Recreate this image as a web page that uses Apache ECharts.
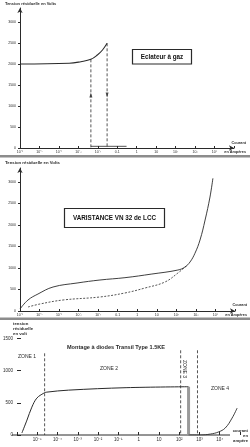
<!DOCTYPE html>
<html><head><meta charset="utf-8">
<script src="https://cdn.jsdelivr.net/npm/echarts@6/dist/echarts.min.js"></script>
<style>html,body{margin:0;padding:0;background:#fff}#c{width:250px;height:447px}</style>
</head><body><div id="c"></div>
<script>
// ---------- Panel 1 : Eclateur à gaz ----------
const gasCurrent = [1e-6, 3.4e-4, 1.35e-3, 4.4e-3, 9.5e-3, 0.0174, 0.03];
const gasVoltage = [2000, 2016, 2055, 2111, 2214, 2333, 2492];
const gasFireCurrent = 4.4e-3, gasFireVoltage = 2111;
const gasStopCurrent = 0.03, gasStopVoltage = 2492;
const gasArrowVoltage = 1262;
const gasArcCurrent = [4.4e-3, 0.3];
const gasArcVoltage = [40, 40];

// ---------- Panel 2 : Varistance ----------
const varSolidCurrent = [1e-6, 2.57e-6, 8.3e-6, 4.9e-5, 8.3e-4, 0.0123, 0.234, 5.6, 120, 275, 500, 890, 1620, 2950, 5250, 7400];
const varSolidVoltage = [47, 256, 395, 558, 651, 721, 775, 860, 953, 1023, 1140, 1341, 1651, 2116, 2651, 3086];
const varDashCurrent = [2.57e-6, 1.05e-5, 1.6e-4, 0.0123, 0.234, 2.5, 26, 120, 350];
const varDashVoltage = [93, 163, 256, 326, 419, 535, 674, 884, 1060];

// ---------- Panel 3 : Transil ----------
const trCurrent = [1.74e-6, 3.1e-6, 5.4e-6, 9.5e-6, 2.1e-5, 2.95e-5, 3.5e-4, 0.24, 290];
const trVoltage = [31, 232, 433, 573, 650, 666, 697, 735, 750];
const trDropCurrent = 290;
const zone4Current = [290, 1100, 3500, 8500, 18600, 40700, 72000];
const zone4Voltage = [0, 0, 15, 46, 108, 263, 418];
const zoneLineCurrent = [2.3e-5, 118, 800];
const zoneLineTop = [1269, 1316, 1316];

// ---------- ticks ----------
const yTicksTop = [0, 500, 1000, 1500, 2000, 2500, 3000];
const yTicksBottom = [0, 500, 1000, 1500];
const xLabelsTop = ['10⁻⁶','10⁻⁵','10⁻⁴','10⁻³','10⁻²','0.1','1','10','10²','10³','10⁴',''];
const xLabelsBottom = ['','10⁻⁵','10⁻⁴','10⁻³','10⁻²','10⁻¹','1','10','10²','10³','10⁴',''];

const zip = (a, b) => a.map((v, i) => [v, b[i]]);
const FF = '"Liberation Sans", Arial, sans-serif';
const INK = '#2a2a2a';

function xAxis(gi, labels, fs, margin, extra) {
  return Object.assign({
    type: 'log', logBase: 10, gridIndex: gi, min: 1e-6, max: 1e5, interval: 1,
    axisLine: {show: true, lineStyle: {color: INK, width: 1}},
    axisTick: {show: true, length: 2, inside: true, lineStyle: {color: INK}},
    minorTick: {show: false},
    splitLine: {show: false},
    axisLabel: {
      fontSize: fs, fontFamily: FF, color: INK, margin: margin,
      formatter: v => labels[Math.round(Math.log10(v)) + 6] || ''
    }
  }, extra || {});
}
function yAxis(gi, max, ticks, fs, extra) {
  return Object.assign({
    type: 'value', gridIndex: gi, min: 0, max: max,
    axisLine: {show: true, lineStyle: {color: INK, width: 1}},
    axisTick: {show: true, length: 2, customValues: ticks, lineStyle: {color: INK}},
    splitLine: {show: false},
    axisLabel: {fontSize: fs, fontFamily: FF, color: INK, margin: 4, customValues: ticks, formatter: v => String(v)}
  }, extra || {});
}

const lineBase = {type: 'line', symbol: 'none', animation: false, silent: true};

const option = {
  animation: false,
  grid: [
    {left: 20, top: 8, width: 214, height: 140},
    {left: 20, top: 168, width: 215, height: 143},
    {left: 15, top: 332, width: 225, height: 103}
  ],
  xAxis: [
    xAxis(0, xLabelsTop, 3.5, 2, {axisLine: {show: true, symbol: ['none', 'arrow'], symbolSize: [4, 5], lineStyle: {color: INK}}}),
    xAxis(1, xLabelsTop, 3.5, 2, {axisLine: {show: true, symbol: ['none', 'arrow'], symbolSize: [4, 5], lineStyle: {color: INK}}}),
    xAxis(2, xLabelsBottom, 4.5, 2, {axisLine: {show: false}, axisTick: {show: true, inside: true, length: 3, lineStyle: {color: INK}}})
  ],
  yAxis: [
    yAxis(0, 3333, yTicksTop, 3.5, {axisLine: {show: true, symbol: ['none', 'arrow'], symbolSize: [4, 5], lineStyle: {color: INK}}}),
    yAxis(1, 3326, yTicksTop, 3.5, {axisLine: {show: true, symbol: ['none', 'arrow'], symbolSize: [4, 5], lineStyle: {color: INK}}}),
    yAxis(2, 1600, yTicksBottom, 4.5, {axisLine: {show: false}, axisTick: {show: true, inside: true, length: 4, customValues: yTicksBottom, lineStyle: {color: INK}}})
  ],
  series: [
    // panel 1
    Object.assign({}, lineBase, {xAxisIndex: 0, yAxisIndex: 0, smooth: 0.4, data: zip(gasCurrent, gasVoltage), lineStyle: {color: INK, width: 1.1}}),
    Object.assign({}, lineBase, {xAxisIndex: 0, yAxisIndex: 0, data: [[gasFireCurrent, gasFireVoltage], [gasFireCurrent, 0]], lineStyle: {color: INK, width: 0.8, type: [3, 2]}}),
    Object.assign({}, lineBase, {xAxisIndex: 0, yAxisIndex: 0, data: [[gasStopCurrent, gasStopVoltage], [gasStopCurrent, 0]], lineStyle: {color: INK, width: 0.8, type: [3, 2]}}),
    Object.assign({}, lineBase, {xAxisIndex: 0, yAxisIndex: 0, data: zip(gasArcCurrent, gasArcVoltage), lineStyle: {color: INK, width: 0.8}}),
    {type: 'scatter', xAxisIndex: 0, yAxisIndex: 0, symbol: 'triangle', symbolSize: [3, 5], itemStyle: {color: INK}, silent: true,
     data: [{value: [gasFireCurrent, gasArrowVoltage]}, {value: [gasStopCurrent, gasArrowVoltage], symbolRotate: 180}]},
    // panel 2
    Object.assign({}, lineBase, {xAxisIndex: 1, yAxisIndex: 1, smooth: 0.4, data: zip(varSolidCurrent, varSolidVoltage), lineStyle: {color: INK, width: 0.9}}),
    Object.assign({}, lineBase, {xAxisIndex: 1, yAxisIndex: 1, smooth: 0.4, data: zip(varDashCurrent, varDashVoltage), lineStyle: {color: INK, width: 0.8, type: [2, 1.5]}}),
    // panel 3
    Object.assign({}, lineBase, {xAxisIndex: 2, yAxisIndex: 2, smooth: 0.35, data: zip(trCurrent, trVoltage), lineStyle: {color: INK, width: 1}}),
    Object.assign({}, lineBase, {xAxisIndex: 2, yAxisIndex: 2, data: [[trDropCurrent, trVoltage[trVoltage.length - 1]], [trDropCurrent, 0]], lineStyle: {color: '#9a9a9a', width: 3}}),
    Object.assign({}, lineBase, {xAxisIndex: 2, yAxisIndex: 2, smooth: 0.4, data: zip(zone4Current, zone4Voltage), lineStyle: {color: INK, width: 0.9}}),
    ...zoneLineCurrent.map((c, i) => Object.assign({}, lineBase, {xAxisIndex: 2, yAxisIndex: 2, data: [[c, zoneLineTop[i]], [c, 0]], lineStyle: {color: INK, width: 0.8, type: [3, 2]}}))
  ],
  graphic: [
    {type: 'rect', shape: {x: 0, y: 155, width: 250, height: 2.5}, style: {fill: '#8c8c8c'}},
    {type: 'rect', shape: {x: 0, y: 317.5, width: 250, height: 2.5}, style: {fill: '#8c8c8c'}},
    {type: 'line', shape: {x1: 12, y1: 435, x2: 230, y2: 435}, style: {stroke: INK, lineWidth: 1}},
    // panel titles
    {type: 'text', x: 5, y: 4, style: {text: 'Tension résiduelle en Volts', fontSize: 4, fontWeight: 'bold', fontFamily: FF, fill: INK, verticalAlign: 'middle'}},
    {type: 'text', x: 5, y: 163, style: {text: 'Tension résiduelle en Volts', fontSize: 4.3, fontWeight: 'bold', fontFamily: FF, fill: INK, verticalAlign: 'middle'}},
    {type: 'text', x: 13, y: 329, style: {text: 'tension\nrésiduelle\nen volt', fontSize: 4.3, lineHeight: 5, fontWeight: 'bold', fontFamily: FF, fill: INK, verticalAlign: 'middle'}},
    // x unit labels
    {type: 'text', x: 246, y: 143, style: {text: 'Courant', fontSize: 3.8, fontWeight: 'bold', fontFamily: FF, fill: INK, align: 'right', verticalAlign: 'middle'}},
    {type: 'text', x: 246, y: 152, style: {text: 'en Ampères', fontSize: 3.8, fontWeight: 'bold', fontFamily: FF, fill: INK, align: 'right', verticalAlign: 'middle'}},
    {type: 'text', x: 247, y: 305, style: {text: 'Courant', fontSize: 3.8, fontWeight: 'bold', fontFamily: FF, fill: INK, align: 'right', verticalAlign: 'middle'}},
    {type: 'text', x: 247, y: 315, style: {text: 'en Ampères', fontSize: 3.8, fontWeight: 'bold', fontFamily: FF, fill: INK, align: 'right', verticalAlign: 'middle'}},
    {type: 'text', x: 248, y: 436, style: {text: 'courant\nen\nampère', fontSize: 4.2, lineHeight: 5, fontWeight: 'bold', fontFamily: FF, fill: INK, align: 'right', verticalAlign: 'middle'}},
    // boxes
    {type: 'rect', shape: {x: 132.5, y: 49.5, width: 59, height: 14.5}, style: {fill: '#fff', stroke: INK, lineWidth: 1.2}},
    {type: 'text', x: 162, y: 57, style: {text: 'Eclateur à gaz', fontSize: 6.3, fontWeight: 'bold', fontFamily: FF, fill: '#111', align: 'center', verticalAlign: 'middle'}},
    {type: 'rect', shape: {x: 64.5, y: 208.5, width: 100, height: 19}, style: {fill: '#fff', stroke: INK, lineWidth: 1.2}},
    {type: 'text', x: 114.5, y: 218.5, style: {text: 'VARISTANCE VN 32 de LCC', fontSize: 6.3, fontWeight: 'bold', fontFamily: FF, fill: '#111', align: 'center', verticalAlign: 'middle'}},
    // panel 3 texts
    {type: 'text', x: 116, y: 347, style: {text: 'Montage à diodes Transil Type 1.5KE', fontSize: 5.6, fontWeight: 'bold', fontFamily: FF, fill: INK, align: 'center', verticalAlign: 'middle'}},
    {type: 'text', x: 18, y: 357, style: {text: 'ZONE 1', fontSize: 5, fontFamily: FF, fill: INK, verticalAlign: 'middle'}},
    {type: 'text', x: 100, y: 369, style: {text: 'ZONE 2', fontSize: 5, fontFamily: FF, fill: INK, verticalAlign: 'middle'}},
    {type: 'text', x: 211, y: 389, style: {text: 'ZONE 4', fontSize: 5, fontFamily: FF, fill: INK, verticalAlign: 'middle'}},
    {type: 'text', x: 184, y: 369, rotation: -Math.PI / 2, style: {text: 'ZONE 3', fontSize: 5, fontFamily: FF, fill: INK, align: 'center', verticalAlign: 'middle'}}
  ]
};
const chart = echarts.init(document.getElementById('c'), null, {renderer: 'canvas'});
chart.setOption(option);
</script></body></html>
